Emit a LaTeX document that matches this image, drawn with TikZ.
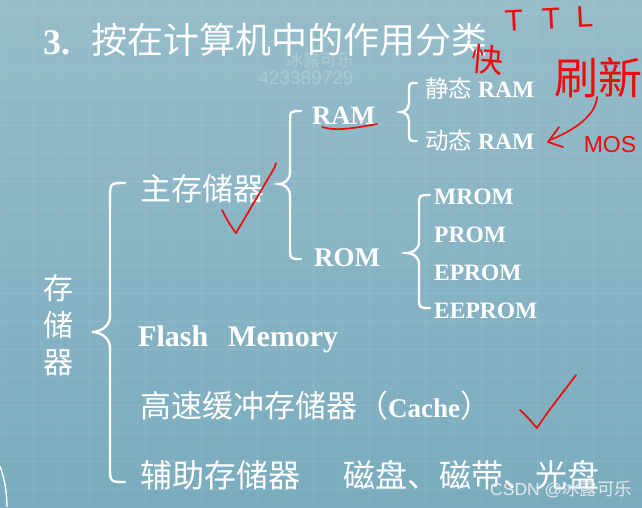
\documentclass[tikz,border=0pt]{standalone}
\usepackage{fontspec}
\setmainfont{Liberation Serif}
\newfontfamily\cjk{Noto Sans CJK SC}
\newfontfamily\lsans{Liberation Sans}
\newcommand\fsz[1]{\fontsize{#1}{#1}\selectfont}
\definecolor{bgtop}{RGB}{150,188,201}
\definecolor{bgbot}{RGB}{122,172,190}
\definecolor{wmcol}{RGB}{172,202,213}
\definecolor{csdncol}{RGB}{226,232,235}
\definecolor{ink}{RGB}{240,10,10}
% xe xv xtip yt ytip yb r
\newcommand\wbrace[7]{%
\draw[bracestroke] (#1,#4) .. controls (#2,#4) and (#2,#4) .. (#2,#4+#7) -- (#2,#5-#7)
 .. controls (#2,#5-0.3*#7) and (#3+0.4*#2-0.4*#3,#5) .. (#3,#5)
 .. controls (#3+0.4*#2-0.4*#3,#5) and (#2,#5+0.3*#7) .. (#2,#5+#7) -- (#2,#6-#7)
 .. controls (#2,#6) and (#2,#6) .. (#1,#6);}
\begin{document}
\begin{tikzpicture}[x=1pt,y=-1pt,
  txt/.style={text=white, inner sep=0pt, anchor=base west},
  wm/.style={text=wmcol, inner sep=0pt},
  redtxt/.style={text=ink, inner sep=0pt},
  bracestroke/.style={draw=white, line width=2.4pt, line cap=round},
  redink/.style={draw=ink, line width=1.7pt, line cap=round, line join=round},
  gridline/.style={draw=white, opacity=0.07, line width=1pt}]
\useasboundingbox (0,0) rectangle (642,507);
\shade[top color=bgtop, bottom color=bgbot] (0,0) rectangle (642,507);
\foreach \gx in {5,33,...,642} \draw[gridline] (\gx,0) -- (\gx,507);
\foreach \gy in {13,41,...,507} \draw[gridline] (0,\gy) -- (642,\gy);
\draw[white, line width=1.4pt] (0,466) .. controls (5,480) and (7,495) .. (7,507);

% watermark
\node[wm, font=\fsz{17}\cjk] (wm1) at (320,60) {冰露可乐};
\node[wm, font=\fsz{19}\lsans] (wm2) at (306,78) {423389729};

% title
\node[txt, font=\fsz{36}\bfseries] (t3) at (43,54) {3.};
\node[txt, font=\fsz{36}\cjk] (title) at (91,53) {按在计算机中的作用分类};

% texts
\node[txt, font=\fsz{23.5}] (sram) at (425,97) {{\cjk 静态} \textbf{RAM}};
\node[txt, font=\fsz{23.5}] (dram) at (425,149) {{\cjk 动态} \textbf{RAM}};
\node[txt, font=\fsz{26.5}\bfseries] (ram) at (312,124) {RAM};
\node[txt, font=\fsz{31}\cjk] (main) at (140,200) {主存储器};
\node[txt, font=\fsz{27}\bfseries] (rom) at (314,266) {ROM};
\node[txt, font=\fsz{23.5}\bfseries] (mrom) at (434,204) {MROM};
\node[txt, font=\fsz{23.5}\bfseries] (prom) at (434,242) {PROM};
\node[txt, font=\fsz{23.5}\bfseries] (eprom) at (434,280) {EPROM};
\node[txt, font=\fsz{23.5}\bfseries] (eeprom) at (434,318) {EEPROM};
\node[text=white, inner sep=0pt, align=center, font=\fontsize{30}{37}\selectfont\cjk] (store) at (58,325) {存\\储\\器};
\node[txt, font=\fsz{30}\bfseries] (flash) at (138,346) {Flash\hspace{20pt}Memory};
\node[txt, font=\fsz{31}] (cache) at (140,417) {{\cjk 高速缓冲存储器（}{\fsz{27}\bfseries Cache}{\cjk ）}};
\node[txt, font=\fsz{32}\cjk] (aux) at (140,487) {辅助存储器\hspace{43pt}磁盘、磁带、光盘};

% braces
\wbrace{125}{110}{92}{183}{332}{482}{16}
\wbrace{301}{290}{279}{111}{184}{259}{12}
\wbrace{417}{409}{401}{83}{112}{141}{9}
\wbrace{430}{419}{407}{195}{253}{308}{11}

% CSDN watermark
\node[text=csdncol, inner sep=0pt, anchor=base west, font=\fsz{17.5}] (csdn) at (490,495) {\lsans CSDN @\cjk 冰露可乐};

% red annotations
\node[redtxt, font=\fsz{30}\lsans, rotate=3] (ttl) at (549,19) {T\hspace{19pt}T\hspace{16pt}L};
\node[redtxt, font=\fsz{32}\cjk, rotate=-5] (kuai) at (487,60) {快};
\node[redtxt, font=\fsz{44}\cjk] (shuaxin) at (598,78) {刷新};
\node[redtxt, font=\fsz{23}\lsans] (mos) at (610,145) {MOS};
\coordinate (arrs) at (597,97);
\coordinate (arre) at (550,140);
\draw[redink] (arrs) .. controls (596,115) and (575,130) .. (arre);
\draw[redink] (559,127) -- (548,142) -- (563,147);
\draw[redink] (322,127) .. controls (335,131) and (350,129) .. (377,124);
\draw[redink] (222,210) .. controls (227,220) and (232,228) .. (236,233) -- (272,172) .. controls (274,168) and (276,166) .. (276,163);
\draw[redink] (520,410) .. controls (527,416) and (533,424) .. (537,428) .. controls (550,408) and (565,390) .. (576,375);
\end{tikzpicture}
\end{document}
